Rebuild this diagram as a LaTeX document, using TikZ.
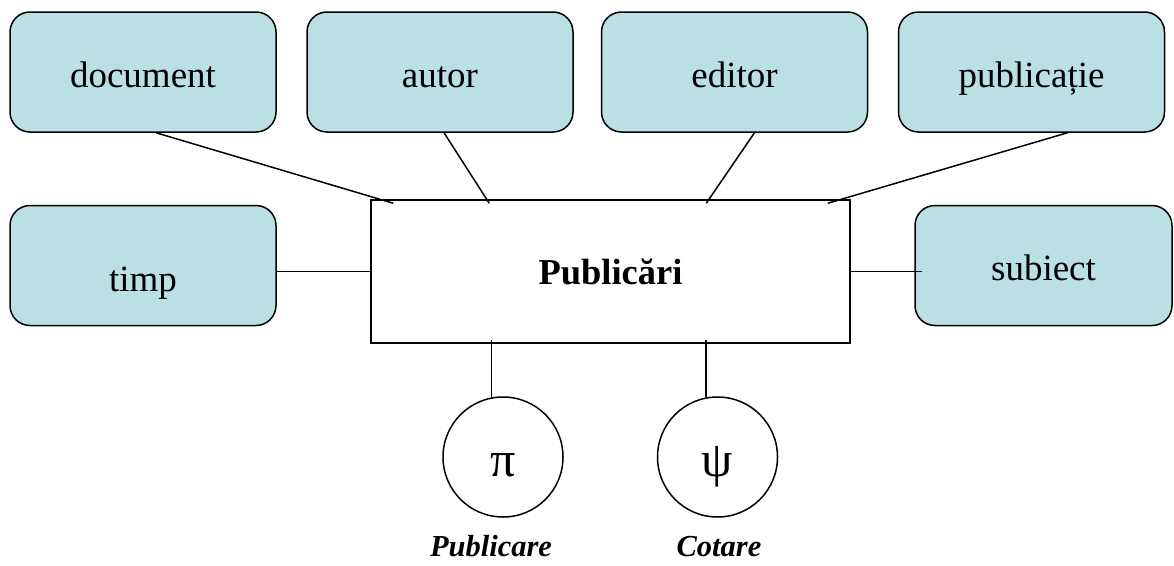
\documentclass[tikz,border=0pt]{standalone}
\usepackage{fontspec}
\setmainfont{Liberation Serif}
\usetikzlibrary{calc}
\definecolor{boxfill}{RGB}{187,224,227}

\begin{document}
\begin{tikzpicture}[x=1pt,y=-1pt,
  attr/.style={draw,line width=1.5pt,rounded corners=20pt,fill=boxfill,minimum width=266pt,minimum height=120pt,inner sep=0pt,font=\fontsize{37}{42}\selectfont,text height=33pt,text depth=3pt},
  fact/.style={draw,line width=1.5pt,minimum width=479pt,minimum height=143pt,inner sep=0pt,font=\bfseries\fontsize{36.5}{42}\selectfont},
  meas/.style={draw,circle,line width=1.5pt,minimum size=120pt,inner sep=0pt,font=\fontsize{50}{56}\selectfont,text height=40pt,text depth=2pt},
  link/.style={line width=1.5pt},
  lbl/.style={anchor=base,font=\bfseries\itshape\fontsize{30.5}{36}\selectfont}]
  \useasboundingbox (0,0) rectangle (1174,565);
  \node[attr] (doc) at (143,72) {document};
  \node[attr] (aut) at (440,72) {autor};
  \node[attr] (edt) at (734.5,72) {editor};
  \node[attr] (pbl) at (1031.5,72) {publicație};
  \node[attr,text height=55pt] (tmp) at (143,265.5) {timp};
  \node[attr,minimum width=257pt] (sbj) at (1043.5,265.5) {subiect};
  \node[fact] (pub) at (610.5,271.5) {Publicări};
  \node[meas] (pi) at (503,457) {π};
  \node[meas] (psi) at (717.5,457) {ψ};
  \node[lbl] (pcap) at (491,556) {Publicare};
  \node[lbl] (ccap) at (719,556) {Cotare};
  \draw[link] ($(doc.south)+(13,0)$) -- ($(pub.north west)+(23,4)$);
  \draw[link] ($(aut.south)+(4,0)$) -- ($(pub.north west)+(119,4)$);
  \draw[link] ($(edt.south)+(20,0)$) -- ($(pub.north west)+(336,4)$);
  \draw[link] ($(pbl.south)+(36,0)$) -- ($(pub.north east)+(-23,4)$);
  \draw[link] (pub.west -| tmp.east) -- (pub.west);
  \draw[link] (pub.east) -- ($(pub.east -| sbj.west)+(8,0)$);
  \draw[link] (pi.101.5) -- ($(pi.101.5 |- pub.south)+(0,-4)$);
  \draw[link] (psi.101) -- ($(psi.101 |- pub.south)+(0,-4)$);
\end{tikzpicture}
\end{document}
